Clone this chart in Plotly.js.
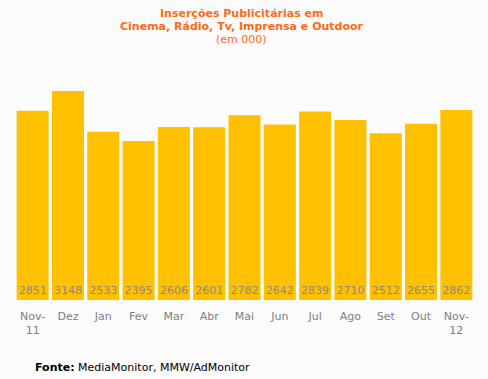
<!DOCTYPE html>
<html>
<head>
<meta charset="utf-8">
<script src="https://cdn.plot.ly/plotly-3.0.1.min.js"></script>
<style>html,body{margin:0;padding:0;background:#fbfbfb;}#chart{width:488px;height:379px;}</style>
</head>
<body>
<div id="chart"></div>
<script>
var categories = ["Nov-11","Dez","Jan","Fev","Mar","Abr","Mai","Jun","Jul","Ago","Set","Out","Nov-12"];
var tickLabels = ["Nov-<br>11","Dez","Jan","Fev","Mar","Abr","Mai","Jun","Jul","Ago","Set","Out","Nov-<br>12"];
var values = [2851,3148,2533,2395,2606,2601,2782,2642,2839,2710,2512,2655,2862];
var titleLines = ["<b>Inserções Publicitárias em</b>", "<b>Cinema, Rádio, Tv, Imprensa e Outdoor</b>", "(em 000)"];

var FONT = 'DejaVu Sans, Verdana, sans-serif';
var trace = {
  type: 'bar',
  x: categories,
  y: values,
  text: values.map(String),
  textposition: 'inside',
  insidetextanchor: 'start',
  constraintext: 'none',
  textangle: 0,
  textfont: {family: FONT, size: 11, color: '#8a8a8a'},
  marker: {color: '#ffc000'},
  hoverinfo: 'none'
};

var titleY = [1.3045, 1.241, 1.182];
var annotations = titleLines.map(function (t, i) {
  return {
    xref: 'paper', yref: 'paper', x: 0.494, y: titleY[i], xanchor: 'center', yanchor: 'middle',
    showarrow: false, text: t,
    font: {family: FONT, size: 11, color: '#ff6a13'}
  };
});
annotations.push({
  xref: 'paper', yref: 'paper', x: 0.039, y: -0.305, xanchor: 'left', yanchor: 'middle',
  showarrow: false,
  text: '<b>Fonte:</b> MediaMonitor, MMW/AdMonitor',
  font: {family: FONT, size: 11, color: '#000000'}
});

var layout = {
  width: 488, height: 379,
  paper_bgcolor: '#fbfbfb', plot_bgcolor: '#fbfbfb',
  margin: {l: 15, r: 14, t: 80, b: 79},
  bargap: 0.094,
  showlegend: false,
  xaxis: {
    type: 'category',
    tickvals: categories, ticktext: tickLabels,
    showgrid: false, zeroline: false, showline: false, ticks: '',
    ticklabelstandoff: 8,
    tickfont: {family: FONT, size: 11, color: '#808080'}
  },
  yaxis: {
    range: [0, 3313], visible: false, showgrid: false, zeroline: false
  },
  annotations: annotations
};

Plotly.newPlot('chart', [trace], layout, {displayModeBar: false, staticPlot: true});
</script>
</body>
</html>
